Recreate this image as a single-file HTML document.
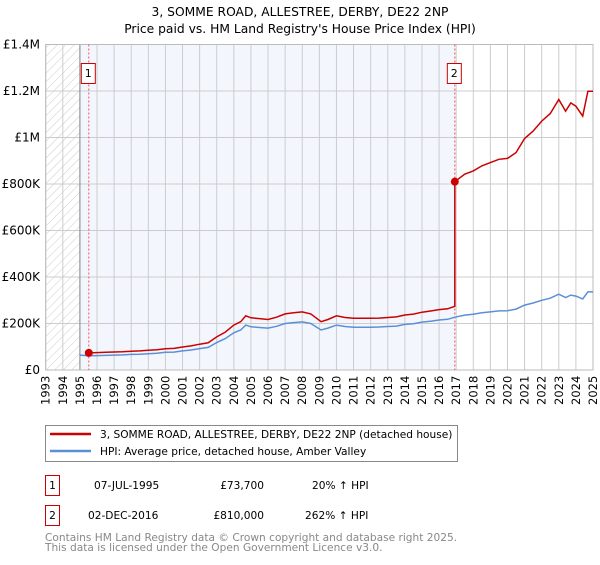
<!DOCTYPE html>
<html><head><meta charset="utf-8"><style>
body{margin:0;background:#fff;font-family:"Liberation Sans","DejaVu Sans",sans-serif;}
svg text{font-family:"DejaVu Sans","Liberation Sans",sans-serif;}
</style></head><body>
<svg id="c" width="600" height="560" xmlns="http://www.w3.org/2000/svg">
<defs><pattern id="hatch" width="6" height="6" patternUnits="userSpaceOnUse" patternTransform="rotate(45)"><line x1="0" y1="0" x2="0" y2="6" stroke="#ccc" stroke-width="1"/></pattern></defs>
<text x="300" y="16" text-anchor="middle" font-size="12.3">3, SOMME ROAD, ALLESTREE, DERBY, DE22 2NP</text>
<text x="300" y="33" text-anchor="middle" font-size="12.3">Price paid vs. HM Land Registry's House Price Index (HPI)</text>
<g id="plot"></g>
<rect x="45.5" y="425.5" width="412" height="36" fill="#fff" stroke="#888"/>
<line x1="50" y1="434" x2="91" y2="434" stroke="#cc0000" stroke-width="2.5"/>
<text x="100" y="438" font-size="10.6">3, SOMME ROAD, ALLESTREE, DERBY, DE22 2NP (detached house)</text>
<line x1="50" y1="451" x2="91" y2="451" stroke="#5b8fd6" stroke-width="2.5"/>
<text x="100" y="455" font-size="10.6">HPI: Average price, detached house, Amber Valley</text>
<g>
<rect x="45.5" y="475.5" width="14" height="20" fill="#fff" stroke="#cc0000"/>
<text x="52.5" y="489" text-anchor="middle" font-size="10.6">1</text>
<text x="94" y="489" font-size="10.6">07-JUL-1995</text>
<text x="264" y="489" text-anchor="end" font-size="10.6">£73,700</text>
<text x="312" y="489" font-size="10.6">20% ↑ HPI</text></g>
<g>
<rect x="45.5" y="505.5" width="14" height="20" fill="#fff" stroke="#cc0000"/>
<text x="52.5" y="519" text-anchor="middle" font-size="10.6">2</text>
<text x="88" y="519" font-size="10.6">02-DEC-2016</text>
<text x="264" y="519" text-anchor="end" font-size="10.6">£810,000</text>
<text x="305" y="519" font-size="10.6">262% ↑ HPI</text></g>
<text x="45" y="541" font-size="10.6" fill="#888">Contains HM Land Registry data © Crown copyright and database right 2025.</text>
<text x="45" y="551" font-size="10.6" fill="#888">This data is licensed under the Open Government Licence v3.0.</text>
</svg>
<script>
const hpiDates=[1995.0,1995.5,1996,1996.5,1997,1997.5,1998,1998.5,1999,1999.5,2000,2000.5,2001,2001.5,2002,2002.5,2003,2003.5,2004,2004.4,2004.7,2005,2005.5,2006,2006.5,2007,2007.5,2008,2008.5,2009.1,2009.5,2010,2010.5,2011,2011.5,2012,2012.5,2013,2013.5,2014,2014.5,2015,2015.5,2016,2016.5,2016.92,2017.5,2018,2018.5,2019,2019.5,2020,2020.5,2021,2021.5,2022,2022.5,2023,2023.4,2023.7,2024,2024.4,2024.7,2025];
const hpiValues=[64,61,62,63,64,65,67,68,70,72,76,77,82,86,92,97,118,135,160,172,193,186,183,180,188,200,204,207,200,172,180,193,187,184,184,184,185,187,189,196,199,206,210,215,218,227,236,240,246,250,254,255,262,279,288,300,309,326,312,322,318,306,336,336];
const saleDates=[1995.52,2016.92];
const salePrices=[73.7,810];
const yTicks=[0,200,400,600,800,1000,1200,1400];
const yTickLabels=["£0","£200K","£400K","£600K","£800K","£1M","£1.2M","£1.4M"];
const xYears=[];for(let y=1993;y<=2025;y++)xYears.push(y);
const X0=45.7,X1=593,Y0=370,Y1=44.5;
const sx=d=>X0+(d-1993)/(2025-1993)*(X1-X0);
const sy=v=>Y0-v/1400*(Y0-Y1);
const NS="http://www.w3.org/2000/svg";
const g=document.getElementById('plot');
function mk(t,a){const e=document.createElementNS(NS,t);for(const k in a)e.setAttribute(k,a[k]);g.appendChild(e);return e;}
let e;
e=mk('rect',{x:X0,y:Y1,width:X1-X0,height:Y0-Y1,fill:'#fff'});


e=mk('rect',{x:sx(1993),y:Y1,width:sx(1995)-sx(1993),height:Y0-Y1,fill:'url(#hatch)'});


e=mk('rect',{x:sx(1995),y:Y1,width:sx(saleDates[1])-sx(1995),height:Y0-Y1,fill:'#eef3fc',opacity:0.7});


xYears.forEach(y=>{e=mk('line',{x1:sx(y),x2:sx(y),y1:Y1,y2:Y0,stroke:'#ccc','stroke-width':1});


e=mk('text',{x:0,y:0,transform:`translate(${sx(y)+4},${Y0+35}) rotate(-90)`,'font-size':11.5});
e.textContent=y;

});
yTicks.forEach((v,i)=>{e=mk('line',{x1:X0,x2:X1,y1:sy(v),y2:sy(v),stroke:'#ccc','stroke-width':1});


e=mk('text',{x:40,y:sy(v)+4,'text-anchor':'end','font-size':12});
e.textContent=yTickLabels[i];

});
e=mk('line',{x1:sx(1995),x2:sx(1995),y1:Y1,y2:Y0,stroke:'#888'});


e=mk('rect',{x:X0,y:Y1,width:X1-X0,height:Y0-Y1,fill:'none',stroke:'#bbb'});


function interp(d){for(let i=0;i<hpiDates.length-1;i++){if(d<=hpiDates[i+1]){const t=(d-hpiDates[i])/(hpiDates[i+1]-hpiDates[i]);return hpiValues[i]+t*(hpiValues[i+1]-hpiValues[i]);}}return hpiValues[hpiValues.length-1];}
saleDates.forEach((d,i)=>{e=mk('line',{x1:sx(d),x2:sx(d),y1:Y1,y2:Y0,stroke:'#e55','stroke-dasharray':'2,2'});


e=mk('rect',{x:sx(d)-7.5,y:63.5,width:14,height:20,fill:'#fff',stroke:'#cc0000'});


e=mk('text',{x:sx(d)-0.5,y:77,'text-anchor':'middle','font-size':11});e.textContent=i+1;

});
let p=hpiDates.map((d,i)=>(i?'L':'M')+sx(d).toFixed(1)+','+sy(hpiValues[i]).toFixed(1)).join('');
e=mk('path',{d:p,fill:'none',stroke:'#5b8fd6','stroke-width':1.5});


let pts=[];
for(let s=0;s<saleDates.length;s++){const start=saleDates[s],end=s+1<saleDates.length?saleDates[s+1]:2025;const r=salePrices[s]/interp(start);
pts.push([start,salePrices[s]]);
hpiDates.forEach((d,i)=>{if(d>start&&d<end)pts.push([d,hpiValues[i]*r]);});
pts.push([end,interp(end)*r]);}
p=pts.map((q,i)=>(i?'L':'M')+sx(q[0]).toFixed(1)+','+sy(q[1]).toFixed(1)).join('');
e=mk('path',{d:p,fill:'none',stroke:'#cc0000','stroke-width':1.5});


saleDates.forEach((d,i)=>{e=mk('circle',{cx:sx(d),cy:sy(salePrices[i]),r:4,fill:'#cc0000'});

});
</script>
</body></html>
